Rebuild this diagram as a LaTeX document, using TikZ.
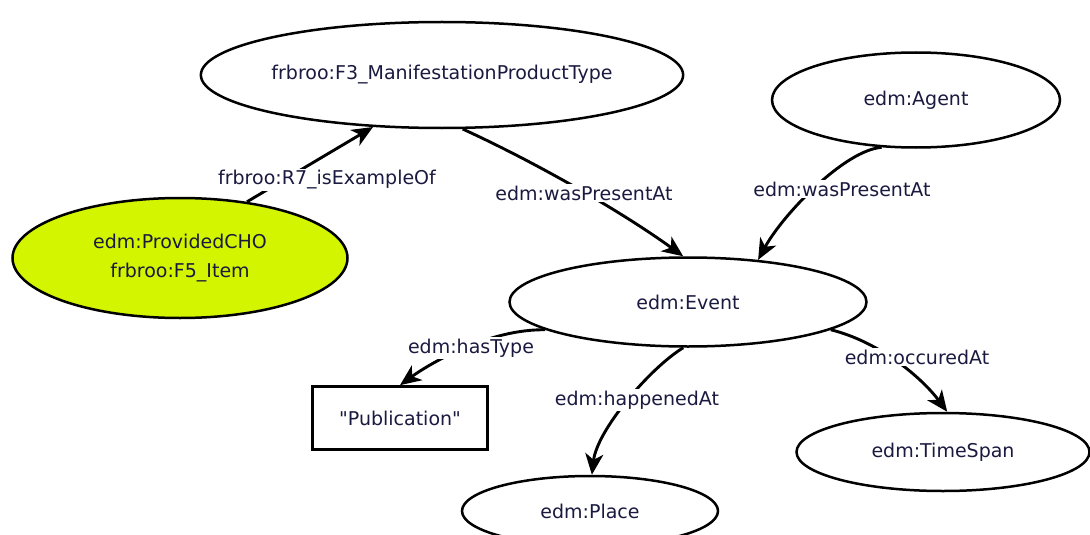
\documentclass[tikz,border=0pt]{standalone}
\usepackage{fontspec}
\setmainfont{DejaVu Sans}
\newfontfamily\djv{DejaVu Sans}
\usetikzlibrary{shapes.geometric,arrows.meta}
\definecolor{txt}{HTML}{1A1A40}
\definecolor{choyellow}{HTML}{D4F500}
\begin{document}
\begin{tikzpicture}[x=1pt,y=-1pt,
  font=\djv\fontsize{19}{29}\selectfont, text=txt,
  cls/.style={ellipse,draw=black,line width=2.5pt,inner sep=0pt,fill=white},
  lit/.style={rectangle,draw=black,line width=2.7pt,inner sep=0pt,fill=white},
  rel/.style={line width=2.9pt,draw=black,-{Stealth[length=21pt,width=18pt,inset=6pt]}},
  lbl/.style={fill=white,inner sep=1.5pt}]
\useasboundingbox (0,0) rectangle (1090,535);
\fill[white] (0,0) rectangle (1090,535);
% nodes
\node[cls,minimum width=390pt,minimum height=106pt] (f3) at (442,75) {frbroo:F3\_ManifestationProductType};
\node[cls,minimum width=288pt,minimum height=95pt] (agent) at (916,100) {edm:Agent};
\node[cls,fill=choyellow,minimum width=335pt,minimum height=120pt,align=center] (cho) at (180,258) {edm:ProvidedCHO\\frbroo:F5\_Item};
\node[cls,minimum width=357pt,minimum height=89pt] (event) at (688,302) {edm:Event};
\node[lit,minimum width=175pt,minimum height=63pt] (pub) at (400,418) {"Publication"};
\node[cls,minimum width=256pt,minimum height=70pt] (place) at (590,511) {edm:Place};
\node[cls,minimum width=293pt,minimum height=78pt] (time) at (943,452) {edm:TimeSpan};
% connectors
\draw[rel] (cho.40) -- (f3.-143);
\draw[rel] (f3.-69) .. controls (537,163) and (622,212) .. (event.96);
\draw[rel] (agent.-126) .. controls (845,150) and (783,214) .. (event.31);
\draw[rel] (event.-169) .. controls (490,329) and (432,362) .. (pub.north);
\draw[rel] (event.-96) .. controls (650,368) and (597,430) .. (place.87);
\draw[rel] (event.-11) .. controls (880,342) and (922,378) .. (time.84);
% labels
\node[lbl] (l1) at (327,180) {frbroo:R7\_isExampleOf};
\node[lbl] (l2) at (584,193) {edm:wasPresentAt};
\node[lbl] (l3) at (842,189) {edm:wasPresentAt};
\node[lbl] (l4) at (471,348) {edm:hasType};
\node[lbl] (l5) at (637,400) {edm:happenedAt};
\node[lbl] (l6) at (917,357) {edm:occuredAt};
\end{tikzpicture}
\end{document}
